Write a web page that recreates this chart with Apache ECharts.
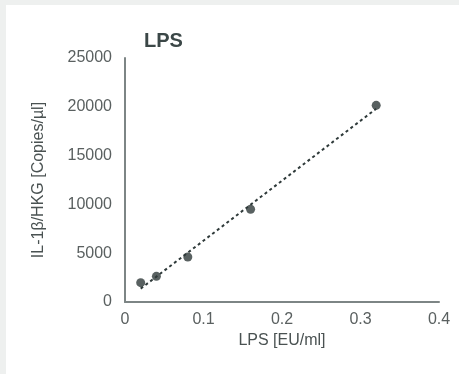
<!DOCTYPE html>
<html><head><meta charset="utf-8">
<script src="https://cdn.jsdelivr.net/npm/echarts@6/dist/echarts.min.js"></script>
<style>
html,body{margin:0;padding:0;background:#eef0ef;width:459px;height:374px;overflow:hidden}
#c{position:absolute;left:6px;top:5px;width:453px;height:369px;background:#fff}
</style></head><body><div id="c"></div>
<script>
const titleText = 'LPS';
const xName = 'LPS [EU/ml]';
const yName = 'IL-1β/HKG [Copies/µl]';
const lpsX = [0.02, 0.04, 0.08, 0.16, 0.32];
const copiesY = [1980, 2630, 4610, 9500, 20150];
const trendX = [0.02, 0.32];
const trendY = [1370, 19800];

const font = '"Liberation Sans", Arial, sans-serif';
const chart = echarts.init(document.getElementById('c'), null, {renderer:'canvas'});
chart.setOption({
  animation:false,
  title:{text:titleText,left:133,top:21,textStyle:{fontFamily:font,fontSize:20,fontWeight:'bold',color:'#3b4747'}},
  grid:{left:119,right:20,top:53,bottom:72},
  xAxis:{type:'value',min:0,max:0.4,interval:0.1,name:xName,nameLocation:'middle',nameGap:31,
    nameTextStyle:{fontFamily:font,fontSize:16,color:'#4a5252'},
    axisLine:{show:true,lineStyle:{color:'#7d8585',width:2}},axisTick:{show:false},splitLine:{show:false},
    axisLabel:{fontFamily:font,fontSize:16,color:'#5a6060',margin:10,formatter:v=>String(v)}},
  yAxis:{type:'value',min:0,max:25000,interval:5000,name:yName,nameLocation:'middle',nameGap:78,
    nameTextStyle:{fontFamily:font,fontSize:16,color:'#4a5252'},
    axisLine:{show:true,lineStyle:{color:'#7d8585',width:2}},axisTick:{show:false},splitLine:{show:false},
    axisLabel:{fontFamily:font,fontSize:16,color:'#5a6060',margin:13,formatter:v=>String(v)}},
  series:[
    {type:'line',data:trendX.map((x,i)=>[x,trendY[i]]),symbol:'none',lineStyle:{color:'#2f3a3a',width:2,type:[3,3]},z:2},
    {type:'scatter',data:lpsX.map((x,i)=>[x,copiesY[i]]),symbol:'circle',symbolSize:9,itemStyle:{color:'#2f3a3a'},z:3}
  ]
});
</script></body></html>
